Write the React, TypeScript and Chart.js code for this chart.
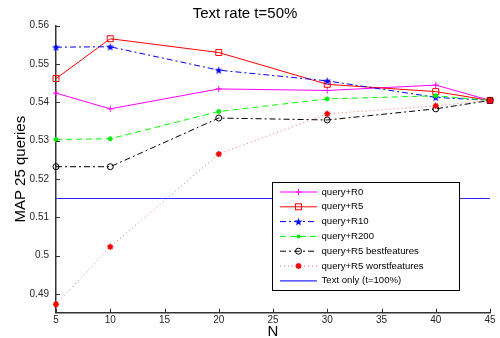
import React, { useEffect, useRef } from "react";
import { Chart, registerables } from "chart.js";

Chart.register(...registerables);

// ---- data ----
const nValues = [5, 10, 20, 30, 40, 45];
const queryR0 = [0.5424, 0.5383, 0.5435, 0.5431, 0.5445, 0.5405];
const queryR5 = [0.5462, 0.5566, 0.553, 0.5447, 0.5428, 0.5405];
const queryR10 = [0.5544, 0.5545, 0.5484, 0.5456, 0.5413, 0.5405];
const queryR200 = [0.5303, 0.5305, 0.5376, 0.5409, 0.5417, 0.5405];
const queryR5Best = [0.5232, 0.5232, 0.5359, 0.5354, 0.5383, 0.5405];
const queryR5Worst = [0.4873, 0.5023, 0.5265, 0.537, 0.5391, 0.5405];
const textOnlyValue = 0.5149;
const seriesLabels = [
  "query+R0",
  "query+R5",
  "query+R10",
  "query+R200",
  "query+R5 bestfeatures",
  "query+R5 worstfeatures",
  "Text only (t=100%)",
];
const xTicks = [5, 10, 15, 20, 25, 30, 35, 40, 45];
const yTicks = [0.49, 0.5, 0.51, 0.52, 0.53, 0.54, 0.55, 0.56];
const titleText = "Text rate t=50%";
const xTitle = "N";
const yTitle = "MAP 25 queries";

const FONT = "'Liberation Sans', Arial, Helvetica, sans-serif";

function makePentagram(size: number, color: string) {
  const c = document.createElement("canvas");
  c.width = size;
  c.height = size;
  const ctx = c.getContext("2d")!;
  const cx = size / 2;
  const cy = size / 2 + 0.4;
  const R = size / 2 - 0.3;
  const r = R * 0.42;
  ctx.beginPath();
  for (let i = 0; i < 10; i++) {
    const ang = -Math.PI / 2 + (i * Math.PI) / 5;
    const rad = i % 2 === 0 ? R : r;
    ctx.lineTo(cx + rad * Math.cos(ang), cy + rad * Math.sin(ang));
  }
  ctx.closePath();
  ctx.fillStyle = color;
  ctx.fill();
  return c;
}

type MarkerKind = "plus" | "square" | "pentagram" | "dot" | "circle" | "asterisk" | "none";

function drawMarker(ctx: CanvasRenderingContext2D, kind: MarkerKind, x: number, y: number, color: string, star?: HTMLCanvasElement) {
  ctx.save();
  ctx.setLineDash([]);
  ctx.strokeStyle = color;
  ctx.fillStyle = color;
  ctx.lineWidth = 1;
  ctx.beginPath();
  switch (kind) {
    case "plus":
      ctx.moveTo(x - 3, y);
      ctx.lineTo(x + 3, y);
      ctx.moveTo(x, y - 3);
      ctx.lineTo(x, y + 3);
      ctx.stroke();
      break;
    case "square":
      ctx.strokeRect(x - 3, y - 3, 6, 6);
      break;
    case "pentagram":
      if (star) ctx.drawImage(star, x - star.width / 2, y - star.height / 2);
      break;
    case "dot":
      ctx.arc(x, y, 2, 0, Math.PI * 2);
      ctx.fill();
      break;
    case "circle":
      ctx.arc(x, y, 3, 0, Math.PI * 2);
      ctx.stroke();
      break;
    case "asterisk": {
      ctx.lineWidth = 1.5;
      const r = 3;
      const d = r * Math.SQRT1_2;
      ctx.moveTo(x - r, y);
      ctx.lineTo(x + r, y);
      ctx.moveTo(x, y - r);
      ctx.lineTo(x, y + r);
      ctx.moveTo(x - d, y - d);
      ctx.lineTo(x + d, y + d);
      ctx.moveTo(x - d, y + d);
      ctx.lineTo(x + d, y - d);
      ctx.stroke();
      break;
    }
    default:
      break;
  }
  ctx.restore();
}

export default function App() {
  const canvasRef = useRef<HTMLCanvasElement | null>(null);

  useEffect(() => {
    const canvas = canvasRef.current;
    if (!canvas) return;
    const star = makePentagram(9, "#0000ff");

    const markers: MarkerKind[] = ["plus", "square", "pentagram", "dot", "circle", "asterisk", "none"];
    const lineColors = ["#ff00ff", "#ff0000", "#0000ff", "#00ff00", "#000000", "#ff6a6a", "#2b2bff"];
    const markerColors = ["#ff00ff", "#ff0000", "#0000ff", "#00ee00", "#000000", "#ff0000", "#2b2bff"];
    const dashes = [[], [], [6, 3, 2, 3], [6, 4], [6, 3, 2, 3], [1, 3], []];

    const seriesValues = [queryR0, queryR5, queryR10, queryR200, queryR5Best, queryR5Worst];
    const pointStyles: any[] = ["cross", "rect", star, "circle", "circle", "star"];
    const pointRadii = [3, 4.2, 4.5, 2, 3, 3];
    const pointBg = ["#ff00ff", "rgba(0,0,0,0)", "#0000ff", "#00ee00", "rgba(0,0,0,0)", "#ff0000"];
    const pointBorderW = [1, 1, 1, 1, 1, 1.5];

    const datasets: any[] = seriesValues.map((vals, i) => ({
      label: seriesLabels[i],
      data: nValues.map((n, j) => ({ x: n, y: vals[j] })),
      borderColor: lineColors[i],
      borderWidth: 1,
      borderDash: dashes[i],
      pointStyle: pointStyles[i],
      pointRadius: pointRadii[i],
      pointBackgroundColor: pointBg[i],
      pointBorderColor: markerColors[i],
      pointBorderWidth: pointBorderW[i],
      tension: 0,
      fill: false,
      clip: false,
      order: -i,
    }));
    datasets.push({
      label: seriesLabels[6],
      data: [
        { x: xTicks[0], y: textOnlyValue },
        { x: xTicks[xTicks.length - 1], y: textOnlyValue },
      ],
      borderColor: lineColors[6],
      borderWidth: 1.2,
      pointRadius: 0,
      fill: false,
      clip: false,
      order: -6,
    });

    const tickPlugin = {
      id: "insideTicks",
      afterDatasetsDraw(chart: any) {
        const { ctx, chartArea } = chart;
        const xs = chart.scales.x;
        const ys = chart.scales.y;
        ctx.save();
        ctx.strokeStyle = "#333333";
        ctx.lineWidth = 1;
        ctx.setLineDash([]);
        ctx.beginPath();
        xTicks.forEach((t) => {
          const px = Math.round(xs.getPixelForValue(t)) + 0.5;
          ctx.moveTo(px, chartArea.bottom);
          ctx.lineTo(px, chartArea.bottom - 4);
        });
        yTicks.forEach((t) => {
          const py = Math.round(ys.getPixelForValue(t)) + 0.5;
          ctx.moveTo(chartArea.left, py);
          ctx.lineTo(chartArea.left + 4, py);
        });
        ctx.stroke();
        ctx.restore();
      },
    };

    const legendPlugin = {
      id: "boxLegend",
      afterDatasetsDraw(chart: any) {
        const { ctx, chartArea } = chart;
        const left = Math.round(chartArea.left + 216) + 0.5;
        const right = Math.round(chartArea.right - 31) + 0.5;
        const top = 182.5;
        const bottom = 290.5;
        ctx.save();
        ctx.fillStyle = "#ffffff";
        ctx.fillRect(left, top, right - left, bottom - top);
        ctx.strokeStyle = "#000000";
        ctx.lineWidth = 1;
        ctx.setLineDash([]);
        ctx.strokeRect(left, top, right - left, bottom - top);
        const rowH = 14.8;
        const x0 = left + 7.5;
        const x1 = left + 44.5;
        const xm = (x0 + x1) / 2;
        chart.data.datasets.forEach((ds: any, i: number) => {
          const y = top + 9.5 + i * rowH;
          ctx.save();
          ctx.strokeStyle = lineColors[i];
          ctx.lineWidth = i === 6 ? 1.2 : 1;
          ctx.setLineDash(dashes[i]);
          ctx.beginPath();
          ctx.moveTo(x0, y);
          ctx.lineTo(x1, y);
          ctx.stroke();
          ctx.restore();
          drawMarker(ctx, markers[i], xm, y, markerColors[i], star);
          ctx.fillStyle = "#000000";
          ctx.font = `9.6px ${FONT}`;
          ctx.textBaseline = "middle";
          ctx.textAlign = "left";
          ctx.fillText(ds.label, left + 49, y);
        });
        ctx.restore();
      },
    };

    const chart = new Chart(canvas, {
      type: "line",
      data: { datasets },
      plugins: [tickPlugin, legendPlugin],
      options: {
        animation: false,
        responsive: false,
        devicePixelRatio: 1,
        layout: { padding: { left: 0, right: 10, top: 0, bottom: 0 } },
        plugins: {
          legend: { display: false },
          tooltip: { enabled: false },
          title: {
            display: true,
            text: titleText,
            color: "#000000",
            font: { family: FONT, size: 15, weight: "normal", lineHeight: 1.2 },
            padding: { top: 4.5, bottom: 3.2 },
          },
        },
        scales: {
          x: {
            type: "linear",
            min: xTicks[0],
            max: xTicks[xTicks.length - 1],
            afterBuildTicks: (scale: any) => {
              scale.ticks = xTicks.map((v) => ({ value: v }));
            },
            afterFit: (scale: any) => {
              scale.height = 25.3;
            },
            grid: { display: false, drawTicks: false },
            border: { display: true, color: "#333333", width: 1.5 },
            ticks: {
              autoSkip: false,
              maxRotation: 0,
              padding: 2,
              color: "#262626",
              font: { family: FONT, size: 10 },
              callback: (v: any) => String(v),
            },
            title: {
              display: true,
              text: xTitle,
              color: "#000000",
              font: { family: FONT, size: 15, lineHeight: 1 },
              padding: { top: 0, bottom: -1.5 },
            },
          },
          y: {
            type: "linear",
            min: 0.4851,
            max: yTicks[yTicks.length - 1],
            afterBuildTicks: (scale: any) => {
              scale.ticks = yTicks.map((v) => ({ value: v }));
            },
            afterFit: (scale: any) => {
              scale.width = 56;
            },
            grid: { display: false, drawTicks: false },
            border: { display: true, color: "#333333", width: 1.5 },
            ticks: {
              autoSkip: false,
              padding: 7,
              color: "#262626",
              font: { family: FONT, size: 10 },
              callback: (v: any) => String(v),
            },
            title: {
              display: true,
              text: yTitle,
              color: "#000000",
              font: { family: FONT, size: 15, lineHeight: 1 },
              padding: { top: 13.5, bottom: 0 },
            },
          },
        },
      } as any,
    });

    return () => {
      chart.destroy();
    };
  }, []);

  return (
    <div style={{ position: "fixed", left: 0, top: 0, width: 500, height: 338, background: "#ffffff" }}>
      <canvas ref={canvasRef} width={500} height={338} style={{ width: 500, height: 338, display: "block" }} />
    </div>
  );
}
